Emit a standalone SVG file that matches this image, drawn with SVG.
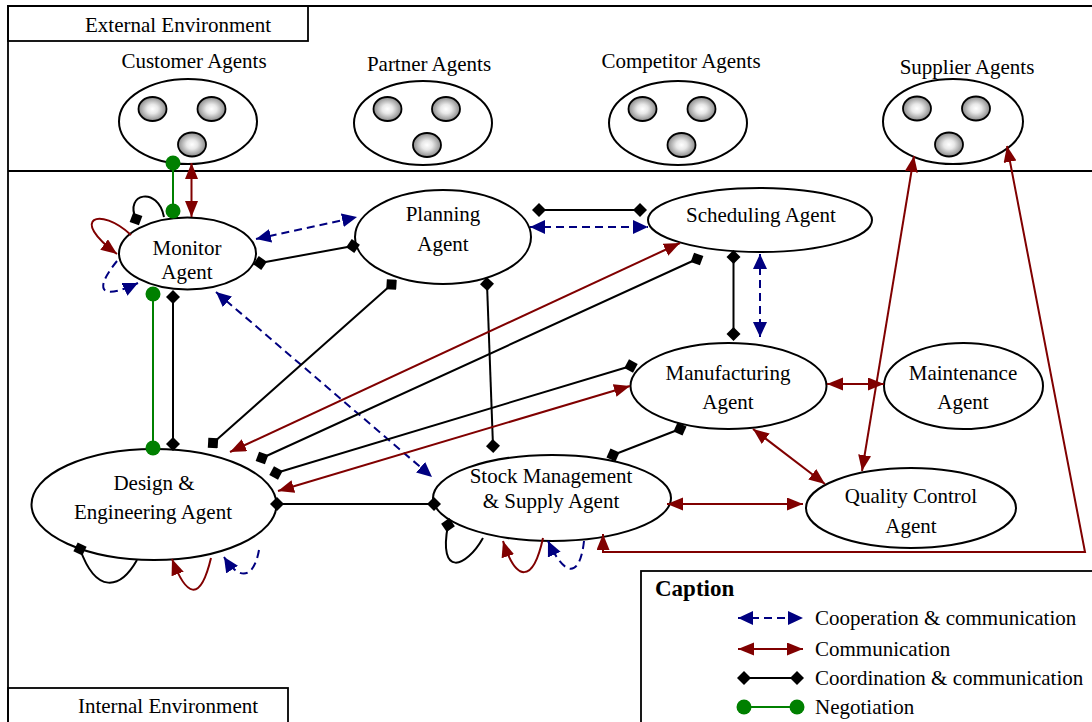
<svg xmlns="http://www.w3.org/2000/svg" width="1092" height="722" viewBox="0 0 1092 722">
<defs>
<radialGradient id="sph" cx="50%" cy="50%" r="55%">
<stop offset="0" stop-color="#ffffff"/>
<stop offset="0.35" stop-color="#e8e8e8"/>
<stop offset="1" stop-color="#7a7a7a"/>
</radialGradient>
<marker id="ar" markerUnits="userSpaceOnUse" markerWidth="17" markerHeight="14" refX="16" refY="6.5" orient="auto-start-reverse" viewBox="0 0 17 14">
<path d="M0,0 L16,6.5 L0,13 z" fill="#800000"/>
</marker>
<marker id="ab" markerUnits="userSpaceOnUse" markerWidth="16" markerHeight="15" refX="15" refY="7" orient="auto-start-reverse" viewBox="0 0 16 15">
<path d="M0,0 L15,7 L0,14 z" fill="#000080"/>
</marker>
<marker id="dm" markerUnits="userSpaceOnUse" markerWidth="15" markerHeight="15" refX="7" refY="7" orient="auto" viewBox="0 0 15 15">
<path d="M0,7 L7,0 L14,7 L7,14 z" fill="#000"/>
</marker>
<marker id="gd" markerUnits="userSpaceOnUse" markerWidth="16" markerHeight="16" refX="8" refY="8" orient="auto" viewBox="0 0 16 16">
<circle cx="8" cy="8" r="7.5" fill="#008000"/>
</marker>
</defs>
<style>
text{font-family:"Liberation Serif","Times New Roman",serif;font-size:21px;fill:#000}
.c{text-anchor:middle}
.node{fill:#fff;stroke:#000;stroke-width:2}
.sp{fill:url(#sph);stroke:#000;stroke-width:1.8}
.frame{fill:none;stroke:#000;stroke-width:1.8}
.red{fill:none;stroke:#800000;stroke-width:2;marker-start:url(#ar);marker-end:url(#ar)}
.redE{fill:none;stroke:#800000;stroke-width:2;marker-end:url(#ar)}
.blu{fill:none;stroke:#000080;stroke-width:2;stroke-dasharray:8 5;marker-start:url(#ab);marker-end:url(#ab)}
.bluE{fill:none;stroke:#000080;stroke-width:2;stroke-dasharray:8 5;marker-end:url(#ab)}
.blk{fill:none;stroke:#000;stroke-width:2;marker-start:url(#dm);marker-end:url(#dm)}
.blkS{fill:none;stroke:#000;stroke-width:2;marker-start:url(#dm)}
.grn{fill:none;stroke:#008000;stroke-width:2;marker-start:url(#gd);marker-end:url(#gd)}
</style>
<rect width="1092" height="722" fill="#fff"/>

<g id="frame">
<path class="frame" d="M8,722 L8,6 L1092,6"/>
<line class="frame" x1="8" y1="171" x2="1092" y2="171"/>
<rect class="frame" x="8" y="6" width="300" height="35"/>
<text class="c" x="178" y="32">External Environment</text>
<rect class="frame" x="8" y="688" width="280" height="40"/>
<text class="c" x="168" y="713">Internal Environment</text>
</g>

<g id="customer-agents">
<text class="c" x="194" y="68">Customer Agents</text>
<ellipse class="node" cx="188" cy="121.5" rx="69" ry="42.5"/>
<ellipse class="sp" cx="152.5" cy="109" rx="14" ry="12"/>
<ellipse class="sp" cx="211.5" cy="109" rx="14" ry="12"/>
<ellipse class="sp" cx="192" cy="144.5" rx="14" ry="12"/>
</g>
<g id="partner-agents">
<text class="c" x="429" y="71">Partner Agents</text>
<ellipse class="node" cx="423" cy="123" rx="69" ry="42"/>
<ellipse class="sp" cx="387.5" cy="109" rx="14" ry="12"/>
<ellipse class="sp" cx="446" cy="109" rx="14" ry="12"/>
<ellipse class="sp" cx="427" cy="145" rx="14" ry="12"/>
</g>
<g id="competitor-agents">
<text class="c" x="681" y="68">Competitor Agents</text>
<ellipse class="node" cx="678" cy="123" rx="69" ry="42"/>
<ellipse class="sp" cx="642.5" cy="109" rx="14" ry="12"/>
<ellipse class="sp" cx="701.5" cy="109" rx="14" ry="12"/>
<ellipse class="sp" cx="681.5" cy="145" rx="14" ry="12"/>
</g>
<g id="supplier-agents">
<text class="c" x="967" y="74">Supplier Agents</text>
<ellipse class="node" cx="953" cy="121.5" rx="70" ry="42.5"/>
<ellipse class="sp" cx="917" cy="108.5" rx="14" ry="12"/>
<ellipse class="sp" cx="976" cy="108.5" rx="14" ry="12"/>
<ellipse class="sp" cx="949" cy="144.5" rx="14" ry="12"/>
</g>

<g id="monitor-agent">
<ellipse class="node" cx="187.5" cy="253.5" rx="68.5" ry="36"/>
<text class="c" x="187" y="255">Monitor</text>
<text class="c" x="187" y="279">Agent</text>
</g>
<g id="planning-agent">
<ellipse class="node" cx="443" cy="237" rx="88" ry="47"/>
<text class="c" x="443" y="221">Planning</text>
<text class="c" x="443" y="251">Agent</text>
</g>
<g id="scheduling-agent">
<ellipse class="node" cx="760" cy="220" rx="112" ry="32"/>
<text class="c" x="761" y="222">Scheduling Agent</text>
</g>
<g id="manufacturing-agent">
<ellipse class="node" cx="728.5" cy="386" rx="98" ry="43"/>
<text class="c" x="728" y="380">Manufacturing</text>
<text class="c" x="728" y="409">Agent</text>
</g>
<g id="maintenance-agent">
<ellipse class="node" cx="963.5" cy="386" rx="79.5" ry="43"/>
<text class="c" x="963" y="380">Maintenance</text>
<text class="c" x="963" y="409">Agent</text>
</g>
<g id="quality-control-agent">
<ellipse class="node" cx="911" cy="508" rx="105" ry="40"/>
<text class="c" x="911" y="503">Quality Control</text>
<text class="c" x="911" y="533">Agent</text>
</g>
<g id="stock-agent">
<ellipse class="node" cx="552" cy="498" rx="119" ry="43"/>
<text class="c" x="551" y="483">Stock Management</text>
<text class="c" x="551" y="508">&amp; Supply Agent</text>
</g>
<g id="design-agent">
<ellipse class="node" cx="154" cy="504.5" rx="122.5" ry="55.5"/>
<text class="c" x="154" y="490">Design &amp;</text>
<text class="c" x="153" y="519">Engineering Agent</text>
</g>

<g id="connectors">
<line class="grn" x1="173" y1="163" x2="173" y2="211"/>
<line class="red" x1="191.5" y1="163" x2="191.5" y2="217"/>
<path class="blkS" d="M136,219 C124,193 158,186 164,217"/>
<path class="redE" d="M131,235 C100,206 68,218 117,254"/>
<path class="bluE" d="M117,261 C92,292 102,300 138,283"/>
<line class="blu" x1="256" y1="239" x2="357" y2="217"/>
<line class="blk" x1="260" y1="263" x2="353" y2="246"/>
<line class="grn" x1="153" y1="294" x2="153" y2="448"/>
<line class="blk" x1="173" y1="297" x2="173" y2="444"/>
<line class="blu" x1="216" y1="292" x2="432" y2="477"/>
<line class="blk" x1="391.5" y1="284.5" x2="213" y2="443"/>
<line class="blk" x1="487" y1="284" x2="493" y2="446"/>
<line class="blk" x1="539" y1="210" x2="640" y2="210"/>
<line class="blu" x1="530" y1="227" x2="648" y2="227"/>
<line class="red" x1="230" y1="452" x2="680" y2="243"/>
<line class="blk" x1="262" y1="458" x2="697" y2="259"/>
<line class="blk" x1="276" y1="473" x2="631" y2="366"/>
<line class="red" x1="278" y1="491" x2="630" y2="386"/>
<line class="blk" x1="277" y1="504" x2="434" y2="504"/>
<path class="blkS" d="M80,549 C96,594 120,590 137,560"/>
<path class="redE" d="M211,558 C200,604 186,596 172,559"/>
<path class="bluE" d="M259,550 C254,578 240,582 224,557"/>
<line class="blk" x1="733.5" y1="257" x2="733.5" y2="334"/>
<line class="blu" x1="760" y1="254" x2="760" y2="337"/>
<line class="blk" x1="680" y1="429" x2="613" y2="455"/>
<line class="red" x1="827" y1="384" x2="884" y2="384"/>
<line class="red" x1="753" y1="429" x2="825" y2="484"/>
<line class="red" x1="667" y1="504" x2="803" y2="504"/>
<line class="red" x1="862" y1="471" x2="914" y2="156"/>
<path class="red" d="M603,534 L603,552 L1085,552 L1007,146"/>
<path class="blkS" d="M448,525 C438,578 466,568 483,538"/>
<path class="redE" d="M543,538 C533,584 516,582 503,541"/>
<path class="bluE" d="M584,541 C580,578 565,578 548,541"/>
</g>

<g id="caption">
<rect x="641" y="571" width="470" height="170" fill="#fff" stroke="#000" stroke-width="1.8"/>
<text x="655" y="596" style="font-weight:bold;font-size:23px">Caption</text>
<line class="blu" x1="738" y1="618" x2="803" y2="618"/>
<text x="815" y="625">Cooperation &amp; communication</text>
<line class="red" x1="738" y1="649" x2="803" y2="649"/>
<text x="815" y="656">Communication</text>
<line class="blk" x1="744" y1="678" x2="797" y2="678"/>
<text x="815" y="685">Coordination &amp; communication</text>
<line class="grn" x1="744" y1="707" x2="797" y2="707"/>
<text x="815" y="714">Negotiation</text>
</g>
</svg>
